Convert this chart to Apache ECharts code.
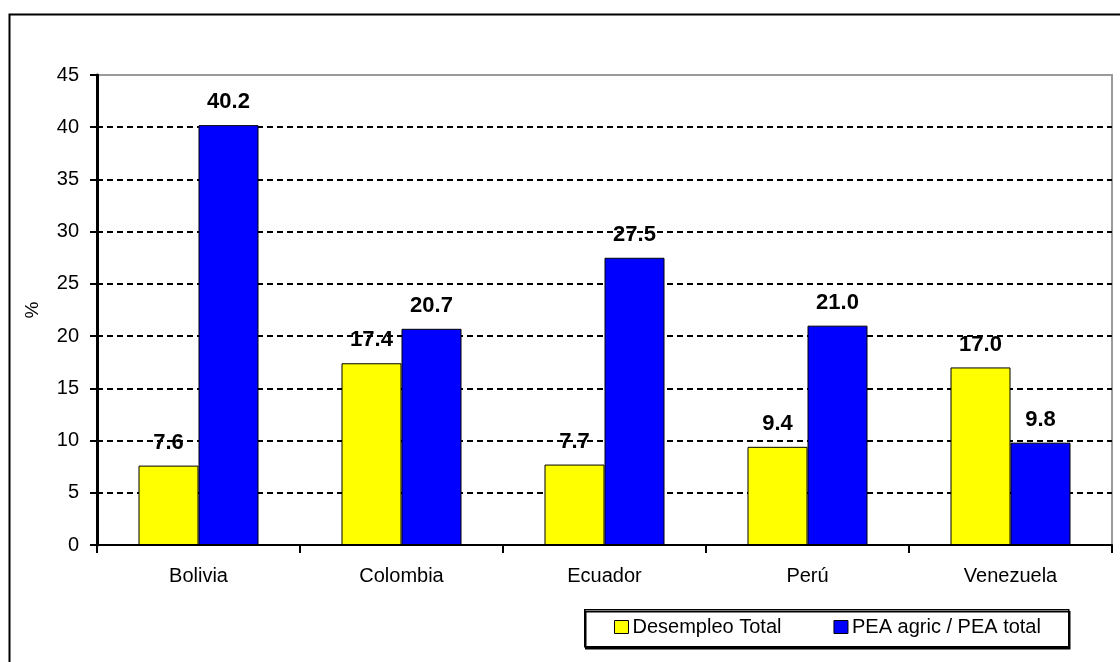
<!DOCTYPE html>
<html>
<head>
<meta charset="utf-8">
<script src="https://cdn.jsdelivr.net/npm/echarts@6/dist/echarts.min.js"></script>
<style>
html,body{margin:0;padding:0;background:#fff;}
#c{width:1120px;height:662px;}
</style>
</head>
<body>
<div id="c"></div>
<script>
const categories = ['Bolivia', 'Colombia', 'Ecuador', 'Perú', 'Venezuela'];
const desempleoTotal = [7.6, 17.4, 7.7, 9.4, 17.0];
const peaAgric = [40.2, 20.7, 27.5, 21.0, 9.8];
const seriesNames = ['Desempleo Total', 'PEA agric / PEA total'];
const yMin = 0, yMax = 45, yInterval = 5;

const FONT = 'Liberation Sans, Arial, sans-serif';
const chart = echarts.init(document.getElementById('c'), null, {renderer: 'canvas'});

const labelCfg = {
  show: true,
  position: 'top',
  distance: 12,
  fontFamily: FONT,
  fontSize: 22,
  fontWeight: 'bold',
  color: '#000',
  formatter: p => p.value.toFixed(1)
};

const splitColors = [];
for (let i = 0; i < 9; i++) splitColors.push('#000');
splitColors.push('rgba(0,0,0,0)');

chart.setOption({
  animation: false,
  backgroundColor: '#fff',
  grid: {
    left: 97, right: 8, top: 75, bottom: 117,
    show: true, borderColor: '#9a9a9a', borderWidth: 2, backgroundColor: 'transparent'
  },
  graphic: [
    {
      type: 'rect', left: 7, top: 12, z: 100,
      shape: {x: 0, y: 0, width: 1200, height: 800},
      style: {fill: 'none', stroke: '#000', lineWidth: 2}
    },
    {
      type: 'rect', left: 584, top: 609, z: 100,
      shape: {x: 0, y: 0, width: 484, height: 37},
      style: {fill: '#fff', stroke: '#000', lineWidth: 1.5, shadowColor: '#000', shadowOffsetX: 1, shadowOffsetY: 2, shadowBlur: 0}
    }
  ],
  legend: {
    data: seriesNames,
    left: 614,
    top: 617,
    padding: 0,
    itemGap: 52,
    itemWidth: 14,
    itemHeight: 13,
    icon: 'rect',
    z: 110,
    itemStyle: {borderColor: '#000', borderWidth: 1},
    textStyle: {fontFamily: FONT, fontSize: 20, color: '#000', padding: [0, 0, 0, -1]}
  },
  xAxis: {
    type: 'category',
    data: categories,
    axisLine: {show: true, lineStyle: {color: '#000', width: 2}},
    axisTick: {show: true, length: 8, lineStyle: {color: '#000', width: 2}},
    axisLabel: {fontFamily: FONT, fontSize: 20, color: '#000', margin: 21},
    splitLine: {show: false}
  },
  yAxis: {
    type: 'value',
    min: yMin, max: yMax, interval: yInterval,
    name: '%',
    nameLocation: 'middle',
    nameGap: 55,
    nameRotate: 90,
    nameTextStyle: {fontFamily: FONT, fontSize: 19, color: '#000'},
    axisLine: {show: true, lineStyle: {color: '#000', width: 3}},
    axisTick: {show: true, length: 7, lineStyle: {color: '#000', width: 2}},
    axisLabel: {fontFamily: FONT, fontSize: 20, color: '#000', margin: 18},
    splitLine: {show: true, lineStyle: {color: splitColors, width: 2, type: [6, 4]}}
  },
  series: [
    {
      name: seriesNames[0],
      type: 'bar',
      data: desempleoTotal,
      barWidth: 60,
      barGap: '0%',
      itemStyle: {color: '#ffff00', borderColor: '#000', borderWidth: 1},
      label: labelCfg,
      z: 3
    },
    {
      name: seriesNames[1],
      type: 'bar',
      data: peaAgric,
      barWidth: 60,
      barGap: '0%',
      itemStyle: {color: '#0000ff', borderColor: '#000', borderWidth: 1},
      label: labelCfg,
      z: 3
    }
  ]
});
</script>
</body>
</html>
